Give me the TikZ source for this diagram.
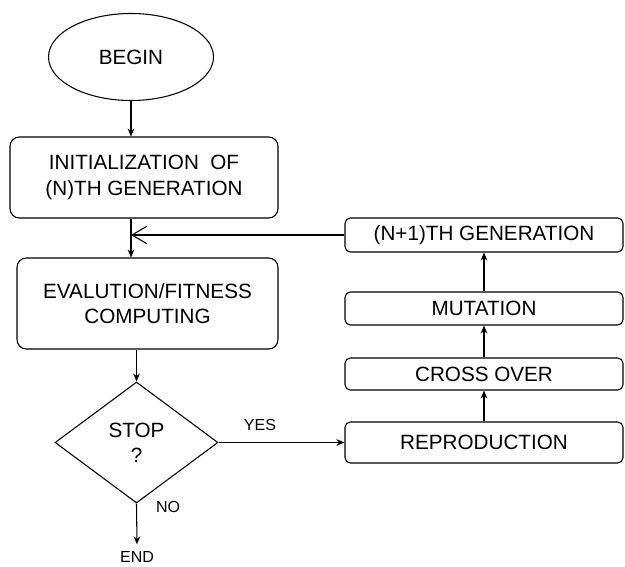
\documentclass[tikz,border=0pt]{standalone}
\usepackage{fontspec}
\setmainfont{Liberation Sans}
\usetikzlibrary{shapes.geometric,arrows.meta}

\begin{document}
\begin{tikzpicture}[x=0.75pt,y=-0.75pt,font=\fontsize{15.5}{19}\selectfont,>={Stealth[length=6pt,width=5pt]},line width=0.8pt,
  box/.style={draw,rounded corners=7pt,align=center,inner sep=0pt},
  genbox/.style={draw,rounded corners=4pt,inner sep=0pt,minimum width=208.5pt},
  tag/.style={font=\fontsize{12}{14}\selectfont,inner sep=1pt}]
\useasboundingbox (0,0) rectangle (625,567);

% main column
\node[draw,ellipse,minimum width=123.75pt,minimum height=65.25pt,inner sep=0pt] (begin) at (131,57) {BEGIN};
\node[box,minimum width=201pt,minimum height=60.75pt] (init) at (144,177.5) {INITIALIZATION\ \ OF\\(N)TH GENERATION};
\node[box,minimum width=195.75pt,minimum height=68.25pt] (eval) at (147.5,303.5) {EVALUTION/FITNESS\\COMPUTING};
\node[draw,diamond,minimum width=122.25pt,minimum height=90.75pt,inner sep=0pt,align=center] (stop) at (136.5,442.5) {STOP\\?};
\node[tag] (end) at (137,557) {END};

% genetic operators
\node[genbox,minimum height=25.5pt] (nextgen) at (484,235) {(N+1)TH GENERATION};
\node[genbox,minimum height=24.75pt] (mutation) at (484,308.5) {MUTATION};
\node[genbox,minimum height=24pt] (cross) at (484,374) {CROSS OVER};
\node[genbox,minimum height=30.75pt] (repro) at (484,442.5) {REPRODUCTION};

\node[tag] (yes) at (260,425) {YES};
\node[tag] (no) at (168,507) {NO};

\draw[->] (begin.south) -- (init.north -| begin.south);
\draw[->] (init.south -| begin.south) -- (eval.north -| begin.south);
\draw[->] (eval.south -| stop.north) -- (stop.north);
\draw[->] (stop.east) -- (repro.west);
\draw[->] (stop.south) -- ([yshift=4pt]end.north);
\foreach \a/\b in {repro/cross,cross/mutation,mutation/nextgen}
  \draw[->] (\a.north) -- (\b.south);
\draw[-{Straight Barb[length=11pt,width=13pt]}] (nextgen.west) -- (nextgen.west -| begin.south);
\end{tikzpicture}
\end{document}
